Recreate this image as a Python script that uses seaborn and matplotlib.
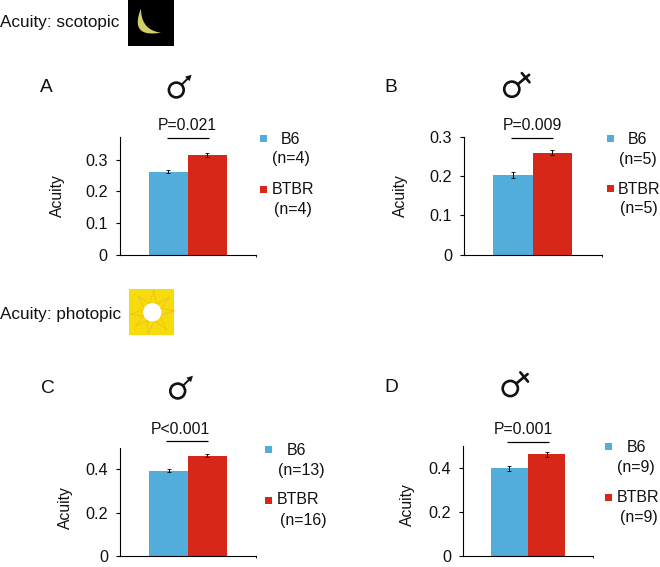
import numpy as np
import pandas as pd
import matplotlib
matplotlib.use("Agg")
import matplotlib.pyplot as plt
from matplotlib.patches import Circle, Rectangle, Polygon
import seaborn as sns

sns.set_theme(style="white")
plt.rcParams['font.family'] = ['Liberation Sans', 'DejaVu Sans']

W, H = 660, 567
groups = ["B6", "BTBR"]
colors = ["#52ADDA", "#D62718"]

letters = ["A", "B", "C", "D"]
means_a = [0.262, 0.314]
means_b = [0.203, 0.260]
means_c = [0.393, 0.462]
means_d = [0.398, 0.462]
errs_a = [0.006, 0.006]
errs_b = [0.007, 0.007]
errs_c = [0.007, 0.007]
errs_d = [0.010, 0.010]
ymax = [0.37, 0.30, 0.50, 0.50]
ticks_scotopic = [0, 0.1, 0.2, 0.3]
ticks_photopic = [0, 0.2, 0.4]
pvals = ["P=0.021", "P=0.009", "P<0.001", "P=0.001"]
ns = [("(n=4)", "(n=4)"), ("(n=5)", "(n=5)"), ("(n=13)", "(n=16)"), ("(n=9)", "(n=9)")]

panels = [
    dict(x0=119.5, x1=256.0, y0=254.7, top=137.3, bars=(148.7, 187.7, 226.7),
         means=means_a, errs=errs_a, ticks=ticks_scotopic, ylab=(57.7, 195.7),
         letter=(46.7, 88), sym=("m", 176.3, 90), p=(187.2, 126, 166.7, 209, 138),
         sq=(263, 138.7, 189), l=(290.7, 139, 291, 159, 293.2, 189, 293.2, 209.7)),
    dict(x0=463.7, x1=601.7, y0=254.7, top=137.0, bars=(493.3, 532.7, 572.0),
         means=means_b, errs=errs_b, ticks=ticks_scotopic, ylab=(400.7, 195.7),
         letter=(391, 87.3), sym=("f", 511.8, 89.2), p=(532.2, 126, 511, 553.3, 138.3),
         sq=(610, 138.3, 188.7), l=(637.3, 139.3, 637.6, 159.3, 639.2, 189.3, 639.2, 209)),
    dict(x0=120.0, x1=256.0, y0=556.0, top=447.7, bars=(149.3, 188.0, 226.7),
         means=means_c, errs=errs_c, ticks=ticks_photopic, ylab=(65.7, 507.3),
         letter=(47.7, 388.3), sym=("m", 177.7, 391), p=(180, 429, 166, 208, 441.3),
         sq=(268, 449.3, 500), l=(296, 450.7, 301, 471, 298.5, 500, 303, 520.7)),
    dict(x0=462.7, x1=593.3, y0=556.0, top=446.0, bars=(490.7, 528.0, 565.3),
         means=means_d, errs=errs_d, ticks=ticks_photopic, ylab=(407.7, 504.3),
         letter=(391.3, 387.7), sym=("f", 510.3, 388.5), p=(523, 429.3, 506.7, 549, 441.7),
         sq=(608.3, 446.3, 497), l=(636, 447.3, 636.3, 467.3, 638.5, 497.7, 638.9, 517.7)),
]

FS_HEAD, FS_TICK, FS_LEG, FS_P, FS_Y, FS_LET = 12.3, 11.7, 11.5, 11.3, 11.3, 13.8
INK = "#111111"

fig = plt.figure(figsize=(W / 100, H / 100), dpi=100, facecolor="white")

ov = fig.add_axes([0, 0, 1, 1], zorder=5)
ov.set_xlim(0, W)
ov.set_ylim(H, 0)
ov.axis("off")
ov.patch.set_alpha(0)

for i, p in enumerate(panels):
    ax = fig.add_axes([p["x0"] / W, 1 - p["y0"] / H,
                       (p["x1"] - p["x0"]) / W, (p["y0"] - p["top"]) / H])
    df = pd.DataFrame({"group": groups, "acuity": p["means"]})
    sns.barplot(data=df, x="group", y="acuity", hue="group", palette=colors,
                order=groups, hue_order=groups, width=1, saturation=1,
                legend=False, ax=ax, edgecolor="none")
    ax.errorbar([0, 1], p["means"], yerr=p["errs"], fmt="none", ecolor="black",
                elinewidth=0.7, capsize=1.2, capthick=0.6)
    bw = p["bars"][1] - p["bars"][0]
    xl = (-0.5 - (p["bars"][0] - p["x0"]) / bw, 1.5 + (p["x1"] - p["bars"][2]) / bw)
    ax.set_xlim(*xl)
    ax.set_ylim(0, ymax[i])
    ax.set_yticks(p["ticks"])
    ax.set_yticklabels([("%g" % t) if t == 0 else "%.1f" % t for t in p["ticks"]],
                       fontsize=FS_TICK, color=INK)
    ax.set_xticks([xl[1]])
    ax.set_xticklabels([""])
    ax.set_xlabel("")
    ax.set_ylabel("")
    ax.tick_params(axis="y", left=True, length=3, width=0.8, pad=5.5, color="black")
    ax.tick_params(axis="x", bottom=True, length=1.5, width=0.6, color="black")
    for s in ("top", "right"):
        ax.spines[s].set_visible(False)
    for s in ("left", "bottom"):
        ax.spines[s].set_color("black")
        ax.spines[s].set_linewidth(0.8)

    ov.text(p["ylab"][0], p["ylab"][1], "Acuity", rotation=90, ha="center", va="center",
            fontsize=FS_Y, color=INK)
    ov.text(p["letter"][0], p["letter"][1], letters[i], ha="center", va="center",
            fontsize=FS_LET, color=INK)

    px, py, lx0, lx1, ly = p["p"]
    ov.text(px, py, pvals[i], ha="center", va="center", fontsize=FS_P, color=INK)
    ov.plot([lx0, lx1], [ly, ly], color="black", lw=0.9, solid_capstyle="butt")

    sqx, sy1, sy2 = p["sq"]
    for c, sy in zip(colors, (sy1, sy2)):
        ov.add_patch(Rectangle((sqx - 3.5, sy - 3.5), 7, 7, color=c, lw=0))
    l = p["l"]
    for txt, tx, ty in ((groups[0], l[0], l[1]), (ns[i][0], l[2], l[3]),
                        (groups[1], l[4], l[5]), (ns[i][1], l[6], l[7])):
        ov.text(tx, ty, txt, ha="center", va="center", fontsize=FS_LEG, color=INK)

    kind, cx, cy = p["sym"]
    c0 = np.array([cx, cy])
    if kind == "m":
        r = 7.4
        d = np.array([1, -1]) / np.sqrt(2)
        start = c0 + d * r
        end = start + d * 14.2
        perp = np.array([d[1], -d[0]])
        ov.add_patch(Circle((cx, cy), r, fill=False, ec=INK, lw=1.9))
        ov.plot(*zip(start, end - d * 3), color=INK, lw=1.4)
        ov.add_patch(Polygon([end, end - d * 6 + perp * 3.2, end - d * 6 - perp * 3.2], color=INK, lw=0))
    else:
        r = 7.6
        d = np.array([0.77, -0.64])
        perp = np.array([0.64, 0.77])
        start = c0 + d * r
        end = c0 + d * 22.5
        mid = c0 + d * 18
        ov.add_patch(Circle((cx, cy), r, fill=False, ec=INK, lw=1.9))
        ov.plot(*zip(start, end), color=INK, lw=1.9)
        ov.plot(*zip(mid - perp * 6, mid + perp * 6), color=INK, lw=1.9)

ov.text(0, 22.7, "Acuity: scotopic", ha="left", va="center", fontsize=FS_HEAD, color=INK)
ov.text(0, 314.2, "Acuity: photopic", ha="left", va="center", fontsize=FS_HEAD, color=INK)

# moon icon
ov.add_patch(Rectangle((128, 0), 46.3, 45.7, color="black", lw=0))
t1 = np.linspace(0, 1, 40)
def arc(p0, p1, ctrl):
    return np.array([(1 - t) ** 2 * np.array(p0) + 2 * t * (1 - t) * np.array(ctrl) + t ** 2 * np.array(p1) for t in t1])
ov.add_patch(Polygon(np.vstack([arc((141, 8.5), (161, 32.7), (129, 38)),
                                arc((161, 32.7), (141, 8.5), (141, 30))]),
                     color="#CFCF6B", lw=0))

# sun icon
ov.add_patch(Rectangle((129.3, 289.3), 45, 45.4, color="#F6DC0C", lw=0))
scx, scy = 152.3, 312.3
for deg in (-86, -41, -4, 51, 101, 140, 175, 229):
    a = np.deg2rad(deg)
    u = np.array([np.cos(a), np.sin(a)])
    n = np.array([-u[1], u[0]])
    c0 = np.array([scx, scy])
    ov.plot(*zip(c0 + u * 9 + n * 3.2, c0 + u * 22), color="#F5C020", lw=0.7)
    ov.plot(*zip(c0 + u * 9 - n * 3.2, c0 + u * 22), color="#F5C020", lw=0.7)
ov.add_patch(Circle((scx, scy), 9.2, color="white", lw=0))

fig.savefig("out.png", dpi=100)
